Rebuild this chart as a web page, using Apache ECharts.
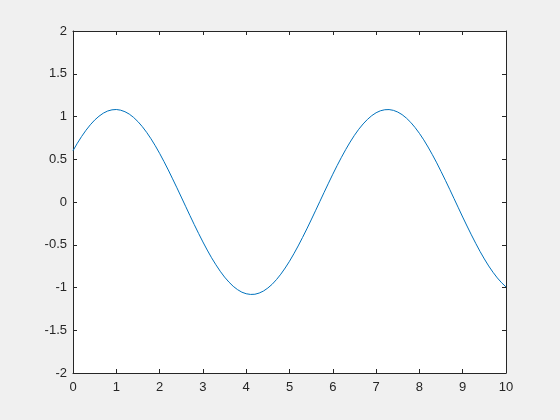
<!DOCTYPE html>
<html>
<head>
<meta charset="utf-8">
<script src="https://cdn.jsdelivr.net/npm/echarts@6/dist/echarts.min.js"></script>
<style>
html,body{margin:0;padding:0;background:#f0f0f0;}
#c{width:560px;height:420px;}
</style>
</head>
<body>
<div id="c"></div>
<script>
const xValues = [0,0.1,0.2,0.3,0.4,0.5,0.6,0.7,0.8,0.9,1,1.1,1.2,1.3,1.4,1.5,1.6,1.7,1.8,1.9,2,2.1,2.2,2.3,2.4,2.5,2.6,2.7,2.8,2.9,3,3.1,3.2,3.3,3.4,3.5,3.6,3.7,3.8,3.9,4,4.1,4.2,4.3,4.4,4.5,4.6,4.7,4.8,4.9,5,5.1,5.2,5.3,5.4,5.5,5.6,5.7,5.8,5.9,6,6.1,6.2,6.3,6.4,6.5,6.6,6.7,6.8,6.9,7,7.1,7.2,7.3,7.4,7.5,7.6,7.7,7.8,7.9,8,8.1,8.2,8.3,8.4,8.5,8.6,8.7,8.8,8.9,9,9.1,9.2,9.3,9.4,9.5,9.6,9.7,9.8,9.9,10];
const yValues = [0.600,0.687,0.767,0.839,0.903,0.958,1.003,1.039,1.064,1.078,1.082,1.074,1.056,1.028,0.989,0.940,0.882,0.815,0.740,0.658,0.569,0.474,0.375,0.271,0.166,0.058,-0.050,-0.158,-0.264,-0.367,-0.467,-0.562,-0.652,-0.734,-0.810,-0.878,-0.936,-0.986,-1.025,-1.055,-1.073,-1.081,-1.079,-1.065,-1.041,-1.006,-0.962,-0.907,-0.844,-0.772,-0.693,-0.606,-0.514,-0.416,-0.315,-0.210,-0.103,0.005,0.113,0.220,0.325,0.426,0.523,0.615,0.701,0.780,0.851,0.913,0.966,1.010,1.044,1.067,1.079,1.081,1.072,1.052,1.022,0.981,0.931,0.871,0.803,0.727,0.643,0.553,0.458,0.357,0.254,0.148,0.040,-0.068,-0.176,-0.281,-0.384,-0.483,-0.578,-0.666,-0.748,-0.822,-0.888,-0.945,-0.993];
const xTicks = {min:0, max:10, interval:1};
const yTicks = {min:-2, max:2, interval:0.5};

const axColor = '#262626';
const font = {fontFamily:'Liberation Sans, Arial, sans-serif', fontSize:13, color:axColor};
function mkAxis(pos, t, labels, margin){
  return {
    type:'value', position:pos, min:t.min, max:t.max, interval:t.interval,
    axisLine:{show:true, onZero:false, lineStyle:{color:axColor, width:1}},
    axisTick:{show:true, inside:true, length:4, lineStyle:{color:axColor}},
    axisLabel:Object.assign({show:labels, margin:margin||8, formatter:v=>String(v)}, font),
    splitLine:{show:false}
  };
}
const chart = echarts.init(document.getElementById('c'));
chart.setOption({
  backgroundColor:'#f0f0f0',
  animation:false,
  grid:{left:73, top:31, width:433, height:342, show:true, backgroundColor:'#ffffff', borderWidth:0},
  xAxis:[mkAxis('bottom', xTicks, true, 8), mkAxis('top', xTicks, false)],
  yAxis:[mkAxis('left', yTicks, true, 6), mkAxis('right', yTicks, false)],
  series:[{
    type:'line', xAxisIndex:0, yAxisIndex:0,
    data:xValues.map((x,i)=>[x,yValues[i]]),
    showSymbol:false, smooth:false,
    lineStyle:{color:'#0072bd', width:1}
  }]
});
</script>
</body>
</html>
